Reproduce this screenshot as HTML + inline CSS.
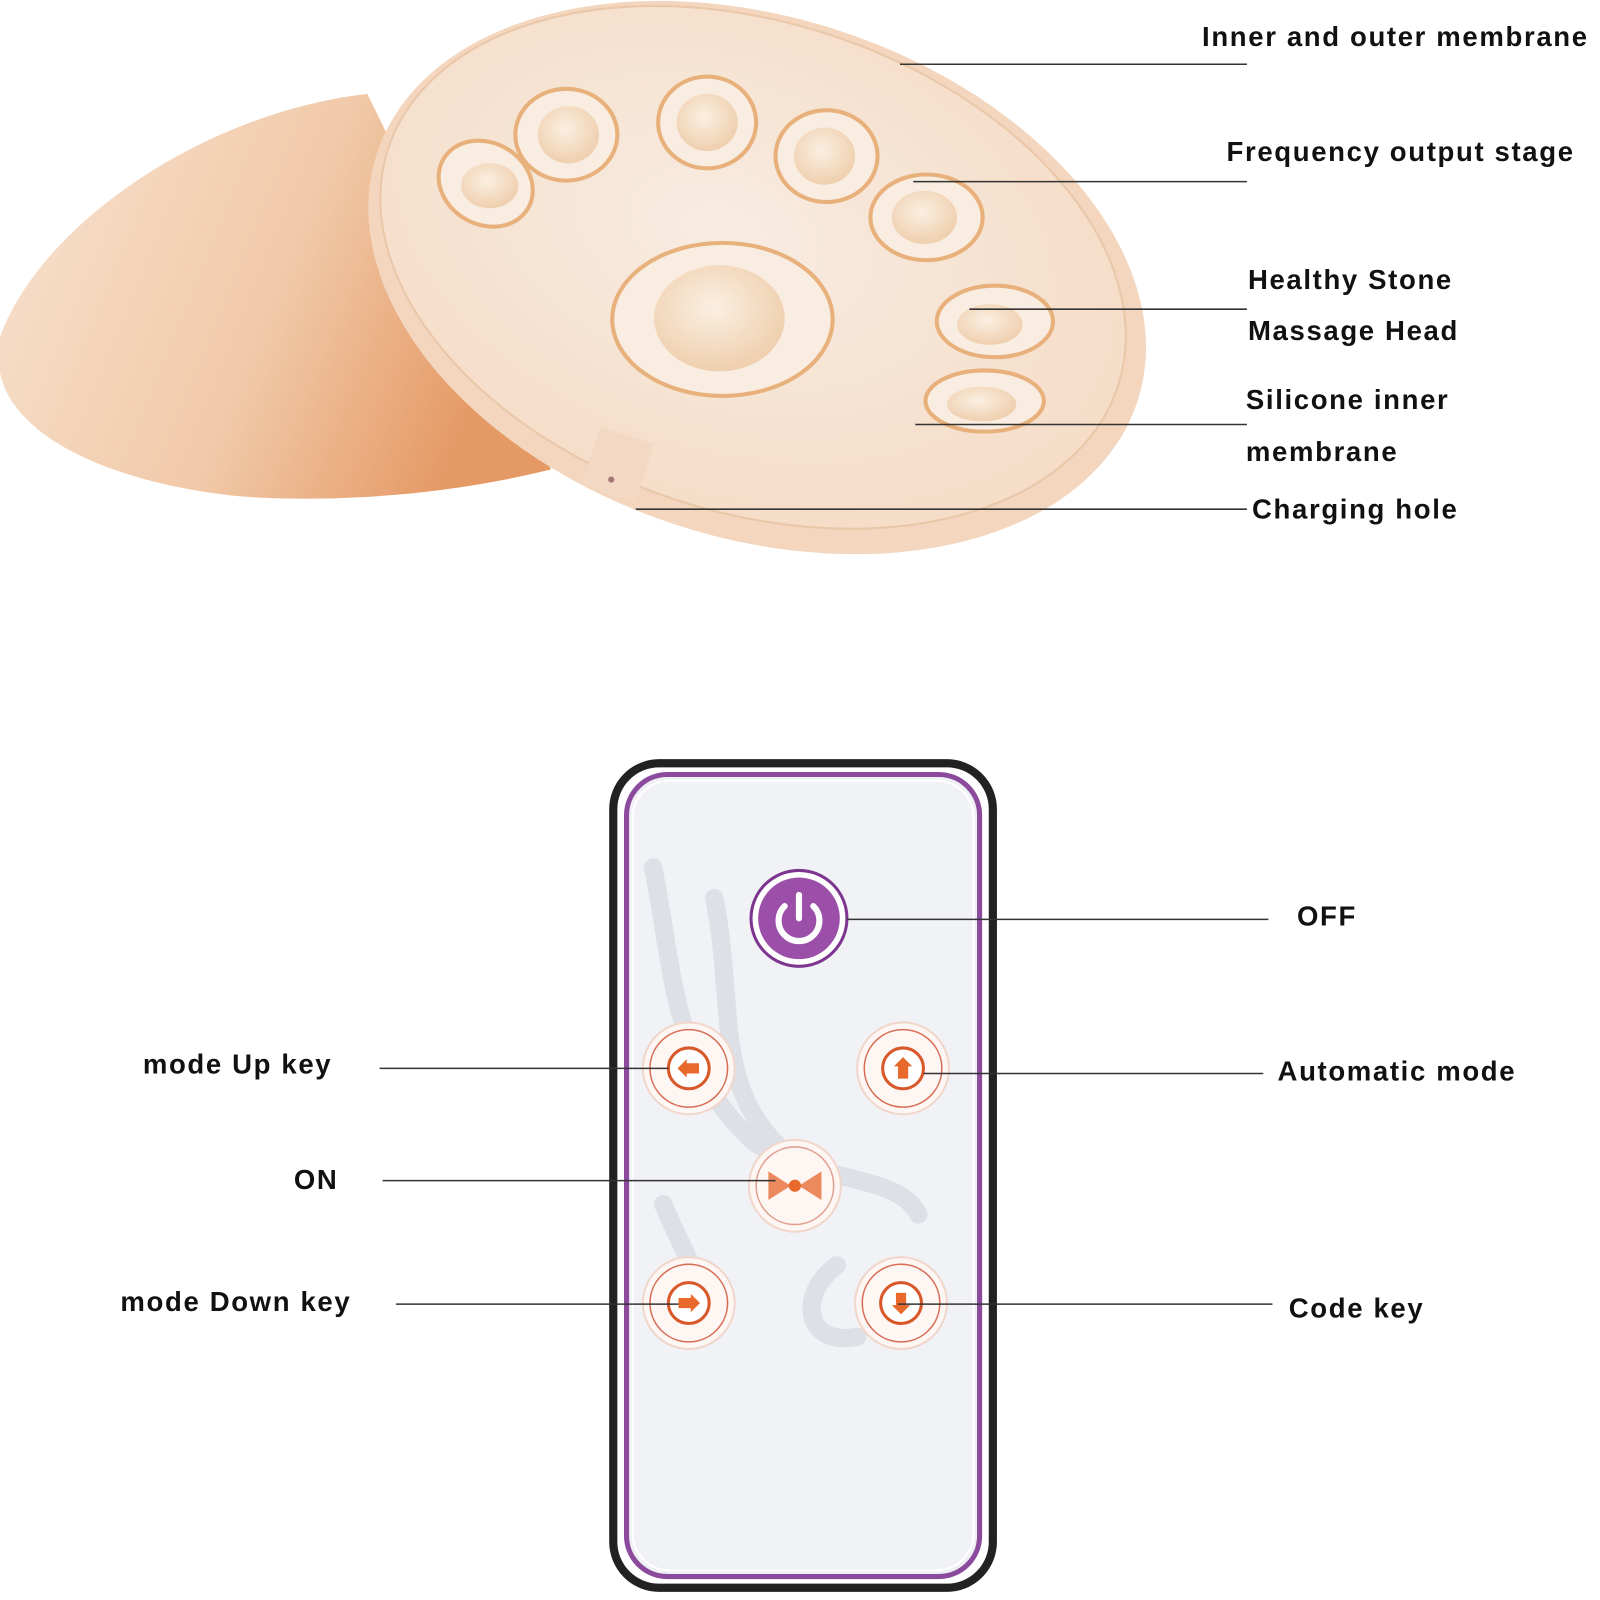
<!DOCTYPE html>
<html><head><meta charset="utf-8"><style>
html,body{margin:0;padding:0;background:#fff;}
svg{display:block;}
text{font-family:"Liberation Sans","DejaVu Sans",sans-serif;font-weight:bold;font-size:27px;fill:#111;letter-spacing:1.6px;}
</style></head><body>
<svg width="1600" height="1600" viewBox="0 0 1568 1568" xmlns="http://www.w3.org/2000/svg">
<defs>
<linearGradient id="dome" x1="0" y1="0" x2="1" y2="0.3">
<stop offset="0" stop-color="#f7e3d2"/><stop offset="0.6" stop-color="#f1c9a8"/><stop offset="1" stop-color="#e59a66"/>
</linearGradient>
<radialGradient id="face" cx="0.45" cy="0.45" r="0.6">
<stop offset="0" stop-color="#f8ece2"/><stop offset="1" stop-color="#f5dcc6"/>
</radialGradient>
<radialGradient id="nub" cx="0.45" cy="0.4" r="0.6">
<stop offset="0" stop-color="#fbefe2"/><stop offset="1" stop-color="#efcfae"/>
</radialGradient>
</defs>
<rect width="1568" height="1568" fill="#fff"/>
<path d="M0,330 C40,220 200,110 360,92 L540,460 C420,490 300,492 230,486 C90,470 10,420 0,365 Z" fill="url(#dome)"/>
<ellipse cx="742" cy="272" rx="392" ry="255" transform="rotate(18 742 272)" fill="#f3d6bd"/>
<ellipse cx="738" cy="262" rx="376" ry="240" transform="rotate(18 738 262)" fill="url(#face)" stroke="#e9c7a8" stroke-width="2"/>
<rect x="578" y="425" width="55" height="60" fill="#f3d9c3" transform="rotate(18 605 455)"/>
<circle cx="599" cy="470" r="3" fill="#a77"/>
<g stroke="#e8b17c" stroke-width="4" fill="#f9ece0">
<ellipse cx="476" cy="180" rx="48" ry="40" transform="rotate(30 476 180)"/>
<ellipse cx="555" cy="132" rx="50" ry="45"/>
<ellipse cx="693" cy="120" rx="48" ry="45"/>
<ellipse cx="810" cy="153" rx="50" ry="45"/>
<ellipse cx="908" cy="213" rx="55" ry="42"/>
<ellipse cx="975" cy="315" rx="57" ry="35"/>
<ellipse cx="965" cy="393" rx="58" ry="30"/>
<ellipse cx="708" cy="313" rx="108" ry="75"/>
</g>
<g fill="url(#nub)">
<ellipse cx="480" cy="182" rx="28" ry="22"/>
<ellipse cx="557" cy="132" rx="30" ry="28"/>
<ellipse cx="693" cy="120" rx="30" ry="28"/>
<ellipse cx="808" cy="153" rx="30" ry="28"/>
<ellipse cx="906" cy="213" rx="32" ry="26"/>
<ellipse cx="970" cy="318" rx="32" ry="20"/>
<ellipse cx="962" cy="396" rx="34" ry="17"/>
<ellipse cx="705" cy="312" rx="64" ry="52"/>
</g>
<g stroke="#333" stroke-width="1.5">
<line x1="882" y1="63" x2="1222" y2="63"/>
<line x1="895" y1="178" x2="1222" y2="178"/>
<line x1="950" y1="303" x2="1222" y2="303"/>
<line x1="897" y1="416" x2="1222" y2="416"/>
<line x1="623" y1="499" x2="1222" y2="499"/>
</g>
<text x="1178" y="45">Inner and outer membrane</text>
<text x="1202" y="158">Frequency output stage</text>
<text x="1223" y="283">Healthy Stone</text>
<text x="1223" y="333">Massage Head</text>
<text x="1221" y="401">Silicone inner</text>
<text x="1221" y="452">membrane</text>
<text x="1227" y="508">Charging hole</text>
<rect x="601" y="748" width="372" height="808" rx="45" fill="#fff" stroke="#222" stroke-width="8"/>
<rect x="614" y="759" width="346" height="786" rx="40" fill="#eef0f4" stroke="#8b4a9c" stroke-width="5"/>
<rect x="620" y="765" width="334" height="774" rx="36" fill="#f1f2f6" stroke="#fff" stroke-width="2"/>
<g fill="none" stroke="#dde0e6" stroke-width="18" stroke-linecap="round">
<path d="M640,850 C660,950 660,1050 740,1120 C800,1160 880,1150 900,1190"/>
<path d="M700,880 C720,980 700,1060 760,1120"/>
<path d="M820,1240 C780,1270 790,1320 840,1310"/>
<path d="M650,1180 C670,1230 700,1270 690,1310"/>
</g>
<circle cx="783" cy="900" r="47" fill="#fff" stroke="#7d3590" stroke-width="3"/>
<circle cx="783" cy="900" r="40" fill="#9b4fa8"/>
<path d="M769,888 A20,20 0 1 0 797,888" fill="none" stroke="#fff" stroke-width="6" stroke-linecap="round"/>
<line x1="783" y1="877" x2="783" y2="900" stroke="#fff" stroke-width="6" stroke-linecap="round"/>
<g>
<g transform="translate(675,1047)">
<circle r="45" fill="#fdf6f2" stroke="#f1d6cc" stroke-width="2"/><circle r="38" fill="none" stroke="#d86d55" stroke-width="1.5"/><circle r="20" fill="#fff" stroke="#d9582a" stroke-width="3"/>
<path d="M-11,0 L-2,-9 L-2,-5 L10,-5 L10,5 L-2,5 L-2,9 Z" fill="#e8692b"/></g>
<g transform="translate(885,1047)">
<circle r="45" fill="#fdf6f2" stroke="#f1d6cc" stroke-width="2"/><circle r="38" fill="none" stroke="#d86d55" stroke-width="1.5"/><circle r="20" fill="#fff" stroke="#d9582a" stroke-width="3"/>
<path d="M0,-11 L9,-2 L5,-2 L5,10 L-5,10 L-5,-2 L-9,-2 Z" fill="#e8692b"/></g>
<g transform="translate(779,1162)">
<circle r="45" fill="#fdf6f2" stroke="#f1d6cc" stroke-width="2"/><circle r="38" fill="none" stroke="#e0a090" stroke-width="1.5"/>
<path d="M-26,-14 L-4,0 L-26,14 Z M26,-14 L4,0 L26,14 Z" fill="#ec8a5e"/><circle r="6" fill="#e8692b"/></g>
<g transform="translate(675,1277)">
<circle r="45" fill="#fdf6f2" stroke="#f1d6cc" stroke-width="2"/><circle r="38" fill="none" stroke="#d86d55" stroke-width="1.5"/><circle r="20" fill="#fff" stroke="#d9582a" stroke-width="3"/>
<path d="M11,0 L2,-9 L2,-5 L-10,-5 L-10,5 L2,5 L2,9 Z" fill="#e8692b"/></g>
<g transform="translate(883,1277)">
<circle r="45" fill="#fdf6f2" stroke="#f1d6cc" stroke-width="2"/><circle r="38" fill="none" stroke="#d86d55" stroke-width="1.5"/><circle r="20" fill="#fff" stroke="#d9582a" stroke-width="3"/>
<path d="M0,11 L9,2 L5,2 L5,-10 L-5,-10 L-5,2 L-9,2 Z" fill="#e8692b"/></g>
</g>
<g stroke="#333" stroke-width="1.5">
<line x1="830" y1="901" x2="1243" y2="901"/>
<line x1="372" y1="1047" x2="655" y2="1047"/>
<line x1="905" y1="1052" x2="1238" y2="1052"/>
<line x1="375" y1="1157" x2="760" y2="1157"/>
<line x1="388" y1="1278" x2="665" y2="1278"/>
<line x1="880" y1="1278" x2="1247" y2="1278"/>
</g>
<text x="1271" y="907">OFF</text>
<text x="140" y="1052">mode Up key</text>
<text x="1252" y="1059">Automatic mode</text>
<text x="288" y="1165">ON</text>
<text x="118" y="1285">mode Down key</text>
<text x="1263" y="1291">Code key</text>
</svg>
</body></html>
